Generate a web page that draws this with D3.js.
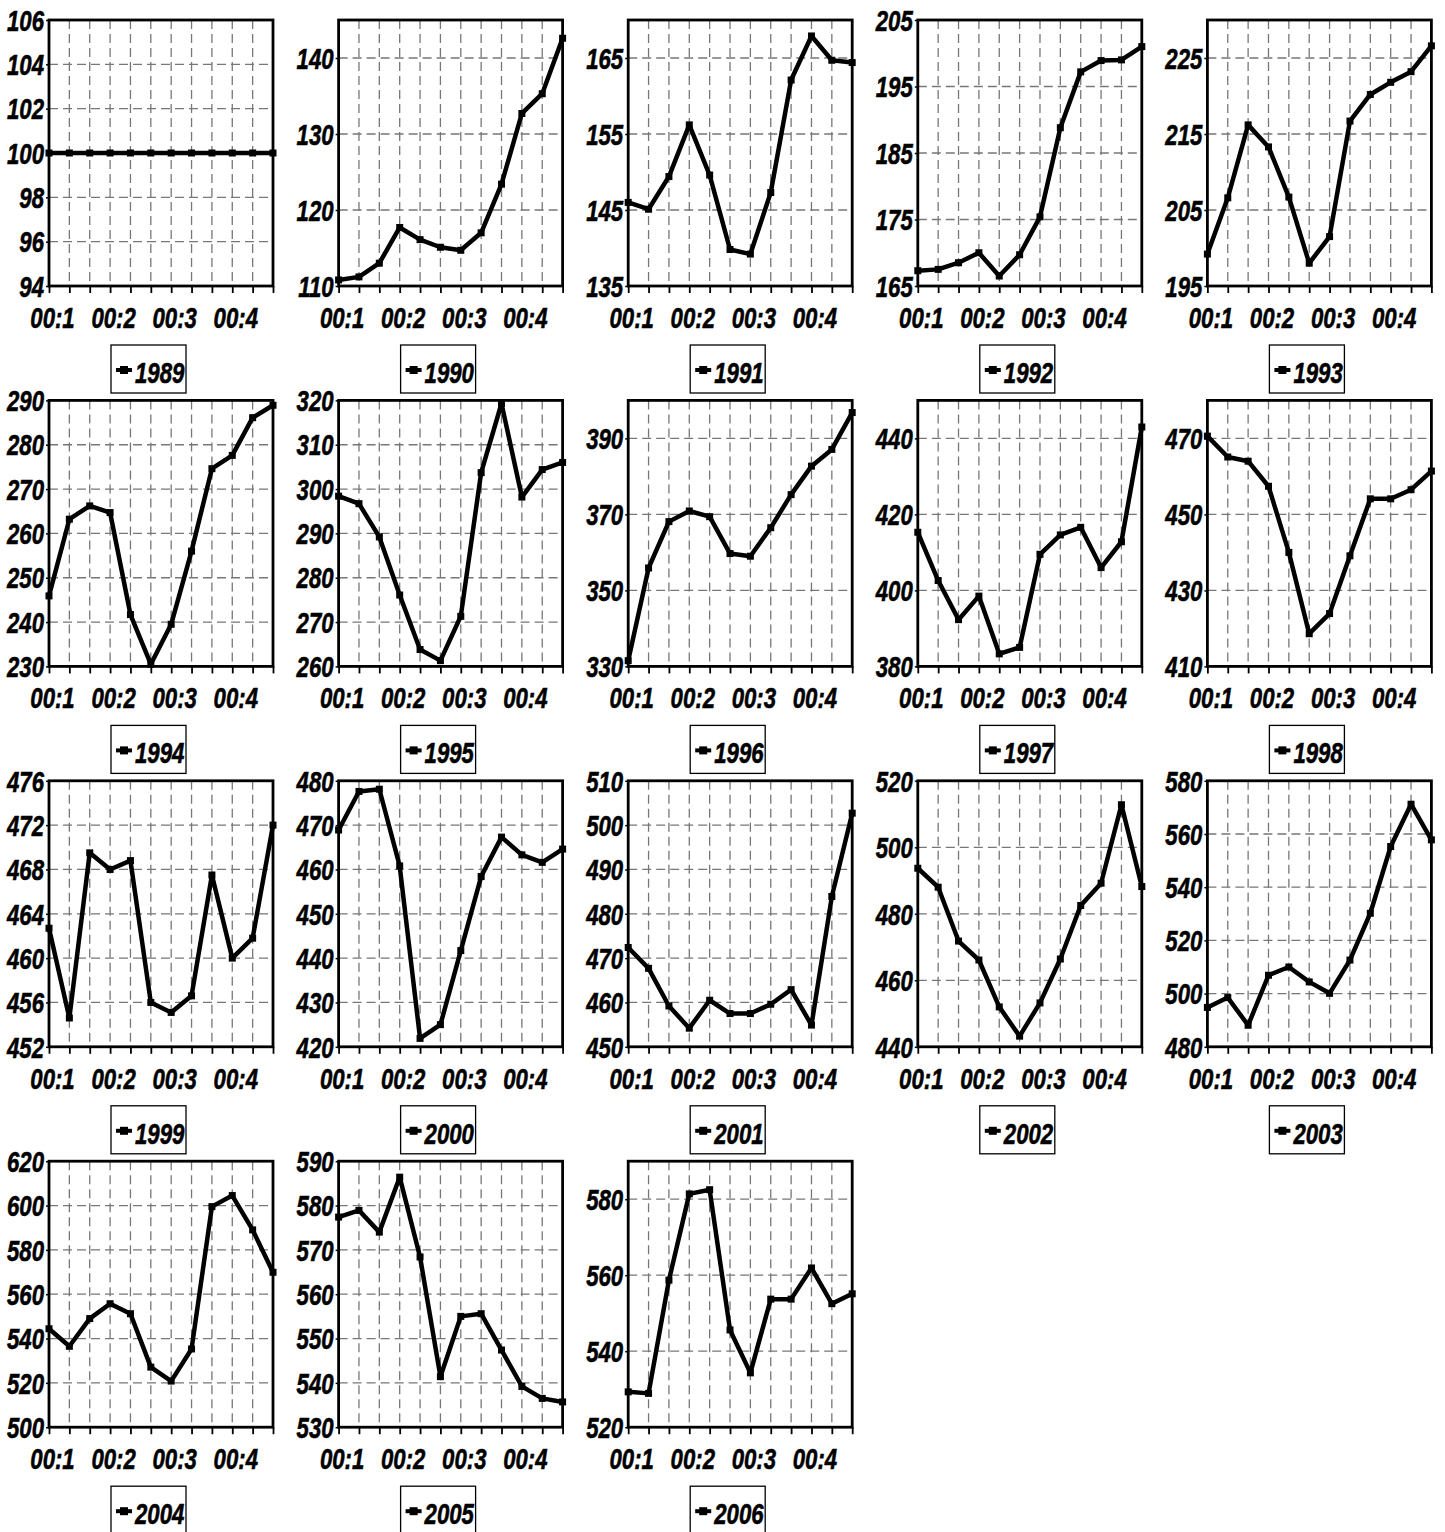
<!DOCTYPE html>
<html>
<head>
<meta charset="utf-8">
<script src="https://cdn.jsdelivr.net/npm/d3@7/dist/d3.min.js"></script>
<style>
  html, body { margin: 0; padding: 0; background: #fff; }
  svg { display: block; }
  .lbl { font-family: "Liberation Sans", Arial, sans-serif; font-weight: bold; font-style: italic; font-size: 30px; fill: #000; stroke: #000; stroke-width: 0.6px; }
</style>
</head>
<body>
<svg id="chart" width="1445" height="1532"></svg>
<script>
// Monthly index series, one small multiple per year
const years = ["1989","1990","1991","1992","1993","1994","1995","1996","1997","1998",
               "1999","2000","2001","2002","2003","2004","2005","2006"];
const months = ["1","2","3","4","5","6","7","8","9","10","11","12"];
const quarterLabels = ["00:1", "00:2", "00:3", "00:4"];

const s1989 = [100,100,100,100,100,100,100,100,100,100,100,100];
const s1990 = [110.8,111.2,113.0,117.7,116.1,115.1,114.7,117.0,123.4,132.7,135.3,142.6];
const s1991 = [146.0,145.1,149.4,156.2,149.6,139.8,139.2,147.3,162.1,167.9,164.7,164.4];
const s1992 = [167.3,167.5,168.5,170.0,166.5,169.7,175.4,188.8,197.2,198.9,199.0,201.0];
const s1993 = [199.2,206.6,216.2,213.3,206.7,198.0,201.5,216.7,220.2,221.8,223.2,226.6];
const s1994 = [245.9,263.2,266.2,264.7,241.7,230.5,239.5,256.0,274.6,277.6,286.1,288.9];
const s1995 = [298.4,296.7,289.2,276.1,263.8,261.3,271.3,303.7,319.3,298.2,304.4,306.0];
const s1996 = [331.5,355.9,368.1,370.9,369.4,359.7,359.0,366.5,375.2,382.7,387.1,396.8];
const s1997 = [415.3,402.6,392.3,398.5,383.3,385.0,409.5,414.6,416.6,406.0,412.8,443.0];
const s1998 = [470.6,465.1,464.0,457.4,440.0,418.6,423.9,439.1,454.1,454.1,456.5,461.4];
const s1999 = [462.7,454.6,469.5,468.0,468.8,456.0,455.1,456.6,467.5,460.0,461.8,472.0];
const s2000 = [468.9,477.6,478.1,460.8,421.9,425.0,441.7,458.4,467.3,463.3,461.6,464.6];
const s2001 = [472.4,467.7,459.2,454.2,460.5,457.5,457.5,459.6,462.9,454.9,483.9,502.7];
const s2002 = [493.7,488.0,471.8,466.1,452.0,443.2,453.2,466.4,482.5,489.2,512.8,488.2];
const s2003 = [494.8,498.5,488.1,506.9,510.0,504.4,500.1,512.6,530.2,555.3,571.2,557.8];
const s2004 = [544.4,536.5,549.0,555.7,551.2,527.1,520.8,535.3,599.5,604.5,589.0,569.9];
const s2005 = [577.4,578.9,574.0,586.4,568.4,541.4,555.0,555.6,547.4,539.2,536.5,535.7];
const s2006 = [529.3,528.9,558.7,581.4,582.5,545.6,534.3,553.7,553.7,561.9,552.5,555.1];

// Value-axis range and tick step per year
const axisMin  = [94,110,135,165,195,230,260,330,380,410,452,420,450,440,480,500,530,520];
const axisMax  = [106,145,170,205,230,290,320,400,450,480,476,480,510,520,580,620,590,590];
const axisStep = [2,10,10,10,10,10,10,20,20,20,4,10,10,20,20,20,10,20];

const seriesList = [s1989,s1990,s1991,s1992,s1993,s1994,s1995,s1996,s1997,s1998,
                    s1999,s2000,s2001,s2002,s2003,s2004,s2005,s2006];

// Layout of the grid of panels
const cols = 5;
const colLeft0 = 49, colPitch = 289.6;
const rowTop0 = 20, rowPitch = 380.4;
const plotW = 224, plotH = 266;
const squeeze = 0.74; // condensed look for the bold italic lettering

const svg = d3.select("#chart");

seriesList.forEach((vals, k) => {
  const c = k % cols, r = Math.floor(k / cols);
  const left = colLeft0 + c * colPitch;
  const top = rowTop0 + r * rowPitch;

  const g = svg.append("g").attr("transform", `translate(${left},${top})`);

  const x = d3.scalePoint().domain(months).range([0, plotW]).padding(0);
  const y = d3.scaleLinear().domain([axisMin[k], axisMax[k]]).range([plotH, 0]);
  const yTicks = d3.range(axisMin[k], axisMax[k] + 1e-9, axisStep[k]);

  // dashed grid
  const grid = g.append("g").attr("stroke", "#777").attr("stroke-width", 1.3)
    .attr("stroke-dasharray", "9,5").attr("fill", "none");
  months.slice(1, -1).forEach(m => {
    grid.append("line").attr("x1", x(m)).attr("x2", x(m)).attr("y1", 0).attr("y2", plotH);
  });
  yTicks.filter(t => t > axisMin[k] && t < axisMax[k]).forEach(t => {
    grid.append("line").attr("x1", 0).attr("x2", plotW).attr("y1", y(t)).attr("y2", y(t));
  });

  // left axis
  const yAxis = g.append("g").call(d3.axisLeft(y).tickValues(yTicks).tickSize(3).tickFormat(d3.format("d")));
  yAxis.select(".domain").remove();
  yAxis.selectAll(".tick line").attr("stroke", "#000").attr("stroke-width", 1.5);
  yAxis.selectAll(".tick text")
    .attr("class", "lbl")
    .attr("x", null).attr("dy", null)
    .attr("text-anchor", "end")
    .attr("dominant-baseline", "central")
    .attr("transform", `translate(-5,0) scale(${squeeze},1)`)
    .style("font-size", "30px");

  // bottom axis: a tick per month, quarter labels every third month
  const xAxis = g.append("g").attr("transform", `translate(0,${plotH})`)
    .call(d3.axisBottom(x).tickSize(7).tickFormat((m, i) => i % 3 === 0 ? quarterLabels[i / 3] : ""));
  xAxis.select(".domain").remove();
  xAxis.selectAll(".tick line").attr("stroke", "#000").attr("stroke-width", 1.8);
  xAxis.selectAll(".tick text")
    .attr("class", "lbl")
    .attr("y", null).attr("dy", null)
    .attr("text-anchor", "middle")
    .attr("transform", `translate(3,42) scale(${squeeze},1)`)
    .style("font-size", "30px");

  // frame
  g.append("rect").attr("x", 0).attr("y", 0).attr("width", plotW).attr("height", plotH)
    .attr("fill", "none").attr("stroke", "#000").attr("stroke-width", 2.8);

  // series line and markers
  const line = d3.line().x((d, i) => x(months[i])).y(d => y(d));
  g.append("path").datum(vals).attr("d", line)
    .attr("fill", "none").attr("stroke", "#000").attr("stroke-width", 4.5)
    .attr("stroke-linejoin", "round");
  g.selectAll("rect.pt").data(vals).enter().append("rect").attr("class", "pt")
    .attr("x", (d, i) => x(months[i]) - 3.5).attr("y", d => y(d) - 3.5)
    .attr("width", 7).attr("height", 7).attr("fill", "#000");

  // legend
  const lg = g.append("g").attr("transform", `translate(62,${plotH + 59})`);
  lg.append("rect").attr("x", 0).attr("y", 0).attr("width", 75).attr("height", 48)
    .attr("fill", "#fff").attr("stroke", "#000").attr("stroke-width", 1.3);
  lg.append("line").attr("x1", 5).attr("x2", 21).attr("y1", 25).attr("y2", 25)
    .attr("stroke", "#000").attr("stroke-width", 4);
  lg.append("rect").attr("x", 9).attr("y", 21).attr("width", 8).attr("height", 8).attr("fill", "#000");
  lg.append("text").attr("class", "lbl")
    .attr("transform", `translate(24,38) scale(${squeeze},1)`)
    .text(years[k]);
});
</script>
</body>
</html>
